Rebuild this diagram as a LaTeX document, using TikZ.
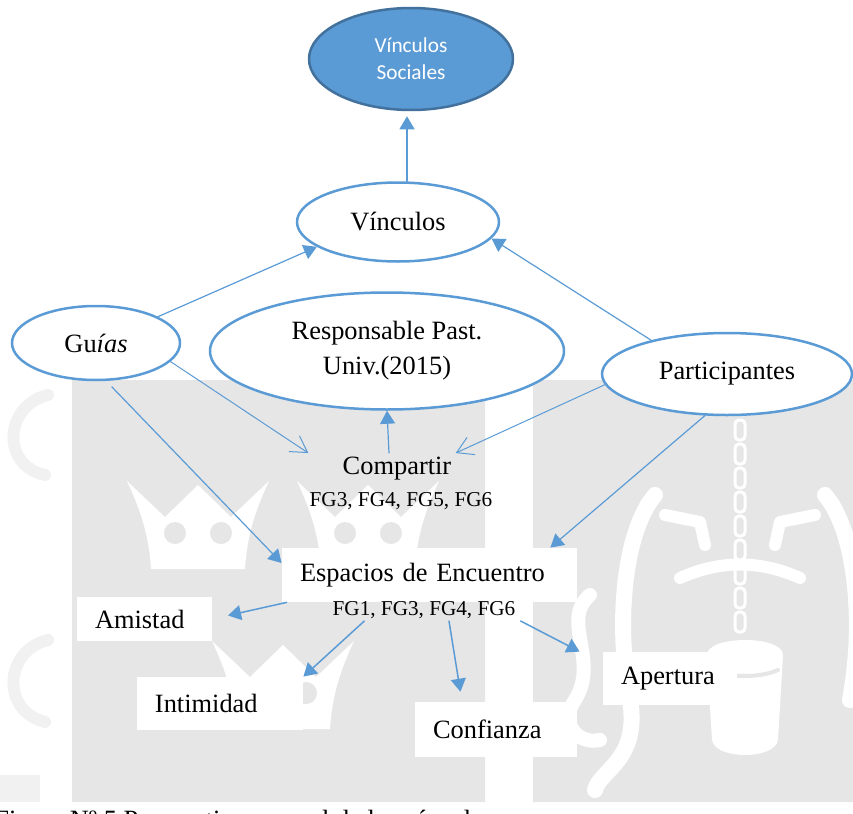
\documentclass[tikz,border=0pt]{standalone}
\usepackage{fontspec}
\setmainfont{Liberation Serif}
\newfontfamily\carlito{Carlito}
\usetikzlibrary{arrows.meta,shapes.geometric,calc}
\definecolor{azul}{HTML}{5B9BD5}
\definecolor{azulosc}{HTML}{41719C}
\definecolor{fondo}{HTML}{E6E6E6}
\definecolor{marca}{HTML}{F1F1F1}
\tikzset{pics/corona/.style={code={
 \fill[white] (0,0) .. controls (14,30) and (22,55) .. (24,88) -- (118,88) .. controls (120,55) and (128,30) .. (142,0) -- (104,36) -- (71,4) -- (38,36) -- cycle;
 \fill[fondo] (48,52) circle (5.5pt) (94,52) circle (5.5pt);}}}
\begin{document}
\begin{tikzpicture}[x=0.5pt,y=-0.5pt,line join=round,line cap=round,
 ovalo/.style={ellipse,draw=azul,line width=1.25pt,fill=white,inner sep=0pt,align=center,font=\fontsize{13.2}{17.5}\selectfont},
 caja/.style={fill=white,inner xsep=9pt,align=left,font=\fontsize{13.2}{16}\selectfont},
 fg/.style={inner sep=1pt,font=\fontsize{10.6}{12}\selectfont},
 flecha/.style={draw=azul,line width=0.6pt,-{Triangle[length=6.5pt,width=7.5pt]}},
 abierta/.style={draw=azul,line width=0.5pt,-{Straight Barb[length=8pt,width=9.5pt]}}]
\useasboundingbox (0,0) rectangle (853,814);
\fill[fondo] (72,380) rectangle (485,802) (533,380) rectangle (853,802);
\draw[marca,line width=6pt] (48,395) .. controls (5,405) and (0,465) .. (45,475);
\draw[marca,line width=6pt] (48,640) .. controls (5,650) and (0,710) .. (45,722);
\fill[marca] (0,775) rectangle (40,802);
\pic at (127,481) {corona};
\pic at (297,481) {corona};
\pic at (212,641) {corona};
\foreach \k in {0,...,8}
 \draw[white,line width=1.5pt,rounded corners=2pt] (735,{420+24*\k}) rectangle (745,{440+24*\k});
\fill[white] (707,655) .. controls (707,635) and (783,635) .. (783,655) -- (778,740) .. controls (775,760) and (715,760) .. (712,740) -- cycle;
\draw[fondo,line width=2pt] (712,670) .. controls (730,678) and (760,678) .. (778,670);
\draw[white,line width=7pt] (590,595) .. controls (560,620) and (600,660) .. (575,700) .. controls (560,720) and (575,745) .. (600,740);
\draw[white,line width=8pt] (655,495) .. controls (625,530) and (615,620) .. (630,700) .. controls (640,760) and (600,770) .. (595,790);
\draw[white,line width=8pt] (825,495) .. controls (855,530) and (865,620) .. (850,700);
\draw[white,line width=6pt] (665,515) -- (700,522) -- (705,545) (815,515) -- (780,522) -- (775,545);
\draw[white,line width=6pt] (680,578) .. controls (720,560) and (760,560) .. (800,578);
\node[ovalo,fill=azul,draw=azulosc,text=white,font=\carlito\fontsize{10.65}{13.5}\selectfont,minimum width=102pt,minimum height=51pt] (vsoc) at (411,59) {Vínculos\\Sociales};
\node[ovalo,minimum width=101pt,minimum height=39.5pt] (vinc) at (398,222) {Vínculos};
\node[ovalo,minimum width=84pt,minimum height=37pt] (guias) at (96,343) {Gu\textit{ías}};
\node[ovalo,minimum width=177pt,minimum height=58.5pt] (resp) at (387,351) {Responsable Past.\\Univ.(2015)};
\node[ovalo,minimum width=125pt,minimum height=41pt] (part) at (727,374) {Participantes};
\node[inner sep=2pt,font=\fontsize{13.2}{16}\selectfont] (comp) at (397,469) {Compartir};
\node[fg] (fgcomp) at (401,501) {FG3, FG4, FG5, FG6};
\node[caja,text width=129.5pt,minimum height=27pt] (esp) at (429.5,575) {Espacios de Encuentro};
\node[fg] (fgesp) at (424,610) {FG1, FG3, FG4, FG6};
\node[caja,text width=49.5pt,minimum height=22pt] (amis) at (144.5,619) {Amistad};
\node[caja,text width=65pt,minimum height=26.5pt] (intim) at (220,703.5) {Intimidad};
\node[caja,text width=63pt,minimum height=27.5pt] (conf) at (496,729.5) {Confianza};
\node[caja,text width=49pt,minimum height=26.5pt] (aper) at (670,678.5) {Apertura};
\node[anchor=base west,inner sep=0pt,font=\fontsize{13.2}{16}\selectfont] (pie) at (-6,828) {Figura Nº 5 Perspectiva general de los vínculos};
\draw[flecha] ([xshift=4.5pt]vinc.north) -- ([xshift=-2pt,yshift=-2.5pt]vsoc.south);
\draw[flecha] (guias.23) -- (vinc.197);
\draw[flecha] (part.156) -- (vinc.-10);
\draw[abierta] (guias.-14) -- ([xshift=-15pt]comp.north west);
\draw[abierta] (part.185) -- (comp.north east);
\draw[flecha] ([xshift=-4pt]comp.north) -- (resp.south);
\draw[flecha,shorten <=4pt] (guias.-75) -- ([yshift=6pt]esp.west);
\draw[flecha] (part.-118) -- ([xshift=-13.5pt]esp.north east);
\draw[flecha,line width=0.75pt,shorten >=8pt] ([xshift=2.5pt]esp.south west) -- (amis.east);
\draw[flecha,line width=0.75pt] ([xshift=17pt]fgesp.south west) -- (intim.north east);
\draw[flecha,line width=0.75pt,shorten >=5pt] ([xshift=12.5pt]fgesp.south) -- ([xshift=-17pt]conf.north);
\draw[flecha,line width=0.75pt] ([xshift=1.5pt]fgesp.south east) -- ([xshift=-11.5pt]aper.north west);
\end{tikzpicture}
\end{document}
